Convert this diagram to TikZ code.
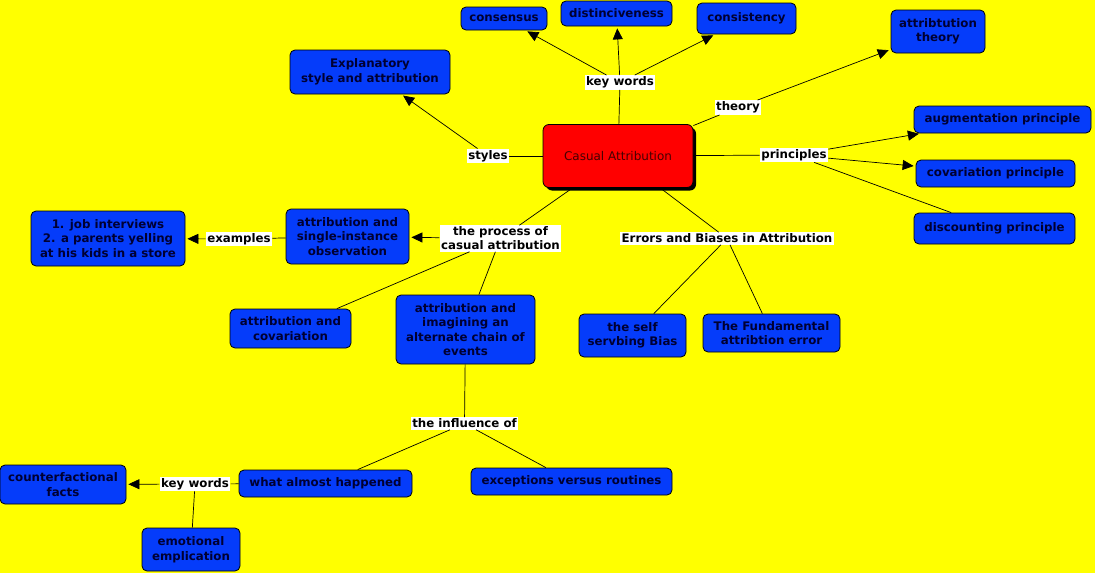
\documentclass[tikz,border=0pt]{standalone}
\usepackage{fontspec}
\setmainfont{DejaVu Sans}
\usetikzlibrary{arrows.meta,shadows}
\definecolor{bg}{RGB}{255,255,0}
\definecolor{nodeblue}{RGB}{5,60,250}
\definecolor{navy}{RGB}{0,0,50}
\definecolor{centerred}{RGB}{255,0,0}
\definecolor{darkredtext}{RGB}{70,0,0}
\begin{document}
\begin{tikzpicture}[x=1pt,y=-1pt,
 concept/.style={draw=black, fill=nodeblue, rounded corners=5pt, font=\bfseries\fontsize{11.8}{14.5}\selectfont, text=navy, align=center, inner sep=2pt, line width=0.8pt},
 lbl/.style={fill=white, font=\bfseries\fontsize{11.8}{14}\selectfont, align=center, inner sep=1.5pt},
 link/.style={draw=black, line width=0.7pt},
 arr/.style={link, -{Triangle[length=11pt,width=10pt]}, shorten >=2pt}]
\fill[bg] (0,0) rectangle (1095,573);
\useasboundingbox (0,0) rectangle (1095,573);
% concepts
\node[concept, minimum width=86, minimum height=23] (cons) at (504,18.5) {consensus};
\node[concept, minimum width=111, minimum height=25] (dist) at (616.5,13.5) {distinciveness};
\node[concept, minimum width=99, minimum height=31] (consi) at (746.5,18.5) {consistency};
\node[concept, minimum width=94, minimum height=43] (theo) at (938,31.5) {attribtution\\theory};
\node[concept, minimum width=160, minimum height=44] (expl) at (370,72) {Explanatory\\style and attribution};
\node[concept, minimum width=177, minimum height=27] (aug) at (1002.5,119.5) {augmentation principle};
\node[concept, minimum width=159, minimum height=27] (cov) at (995.5,173.5) {covariation principle};
\node[concept, minimum width=161, minimum height=31] (disc) at (994.5,228.5) {discounting principle};
\node[draw=black, fill=centerred, rounded corners=6pt, line width=0.8pt, minimum width=150, minimum height=63,
  drop shadow={shadow xshift=3pt, shadow yshift=-3pt, fill=black, opacity=1},
  font=\fontsize{12}{14}\selectfont, text=darkredtext] (center) at (618,156) {Casual Attribution};
\node[concept, minimum width=154, minimum height=55] (jobs) at (108,238.5) {1. job interviews\\2. a parents yelling\\at his kids in a store};
\node[concept, minimum width=123, minimum height=55] (single) at (347.5,236.5) {attribution and\\single-instance\\observation};
\node[concept, minimum width=121, minimum height=39] (covar) at (290.5,328.5) {attribution and\\covariation};
\node[concept, minimum width=139, minimum height=69] (imag) at (465.5,329.5) {attribution and\\imagining an\\alternate chain of\\events};
\node[concept, minimum width=107, minimum height=43] (selfs) at (632.5,335.5) {the self\\servbing Bias};
\node[concept, minimum width=137, minimum height=38] (fund) at (771.5,333) {The Fundamental\\attribtion error};
\node[concept, minimum width=126, minimum height=39] (cf) at (63,484.5) {counterfactional\\facts};
\node[concept, minimum width=173, minimum height=27] (what) at (325.5,483.5) {what almost happened};
\node[concept, minimum width=201, minimum height=27] (exc) at (571.5,481.5) {exceptions versus routines};
\node[concept, minimum width=98, minimum height=43] (emo) at (191,549.5) {emotional\\emplication};
% labels
\node[lbl] (kw1) at (620,82.5) {key words};
\node[lbl] (th) at (738,107.5) {theory};
\node[lbl] (sty) at (488,156) {styles};
\node[lbl] (pri) at (794,155) {principles};
\node[lbl] (proc) at (500.5,238.5) {the process of\\casual attribution};
\node[lbl] (err) at (727,238.5) {Errors and Biases in Attribution};
\node[lbl] (ex) at (239,239) {examples};
\node[lbl] (infl) at (464.5,423.5) {the influence of};
\node[lbl] (kw2) at (195,484) {key words};
% connectors
\draw[link] (center) -- (kw1);
\draw[arr] (kw1) -- (cons);
\draw[arr] (kw1) -- (dist);
\draw[arr] (kw1) -- (consi);
\draw[link] (center) -- (th);
\draw[arr] (th) -- (theo);
\draw[link] (center) -- (sty);
\draw[arr] (sty) -- (expl);
\draw[link] (center) -- (pri);
\draw[arr] (pri) -- (aug);
\draw[arr] (pri) -- (cov);
\draw[link] (pri) -- (disc);
\draw[link] (center) -- (proc);
\draw[arr] (proc) -- (single);
\draw[link] (single) -- (ex);
\draw[arr] (ex) -- (jobs);
\draw[link] (proc) -- (covar);
\draw[link] (proc) -- (imag);
\draw[link] (imag) -- (infl);
\draw[link] (infl) -- (what);
\draw[link] (infl) -- (exc);
\draw[link] (what) -- (kw2);
\draw[arr] (kw2) -- (cf);
\draw[link] (kw2) -- (emo);
\draw[link] (center) -- (err);
\draw[link] (err) -- (selfs);
\draw[link] (err) -- (fund);
\end{tikzpicture}
\end{document}
